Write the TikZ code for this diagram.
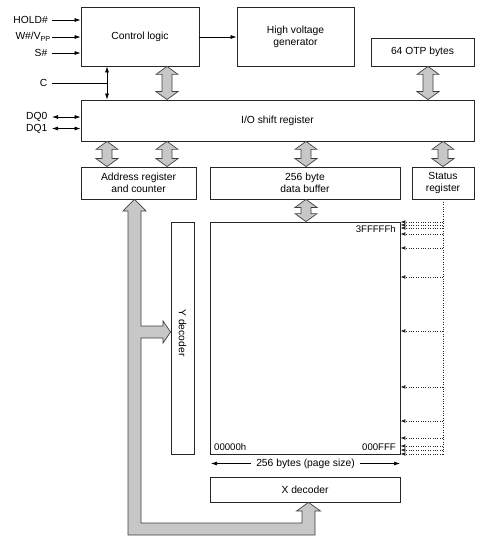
\documentclass[tikz,border=0pt]{standalone}
\usepackage{fontspec}
\setmainfont{Liberation Sans}
\usetikzlibrary{arrows.meta,calc}
\newcommand\fatv[3]{%
  \coordinate (fx) at (#1,0);
  \draw[fat] let \p1=(#2 -| fx), \p2=(#3 -| fx) in
    (\x1,\y1) -- ++(11pt,-8pt) -- ++(-6pt,0) -- (\x1+5pt,\y2+8pt) -- ++(6pt,0)
    -- (\x1,\y2) -- ++(-11pt,8pt) -- ++(6pt,0) -- (\x1-5pt,\y1-8pt) -- ++(-6pt,0) -- cycle;}
\tikzset{
  box/.style={draw=black!85, line width=0.8pt, inner sep=0pt, align=center,
    font=\fontsize{10.3}{12.3}\selectfont},
  lbl/.style={inner sep=0pt, font=\fontsize{10.3}{12}\selectfont},
  small/.style={inner sep=0pt, font=\fontsize{9.6}{11}\selectfont},
  fat/.style={fill=black!22, draw=black!75, line width=0.7pt, line join=miter},
  thin/.style={draw=black, line width=0.7pt},
  tip/.style={-{Latex[length=6pt,width=4pt]}},
  tips/.style={{Latex[length=6pt,width=4pt]}-{Latex[length=6pt,width=4pt]}},
  dots/.style={draw=black!85, line width=0.9pt, dash pattern=on 0.9pt off 1.5pt},
  dtip/.style={-{Latex[length=5pt,width=4pt]}}
}
\begin{document}
\begin{tikzpicture}[x=1pt,y=-1pt]
\useasboundingbox (0,0) rectangle (498,537);
% boxes
\node[box, minimum width=118, minimum height=59] (ctrl) at (140,36.5) {Control logic};
\node[box, minimum width=117, minimum height=59] (hv) at (295.5,36.5) {High voltage\\generator};
\node[box, minimum width=103, minimum height=28] (otp) at (422.5,52) {64 OTP bytes};
\node[box, minimum width=393, minimum height=41] (io) at (277.5,120.5) {I/O shift register};
\node[box, minimum width=115, minimum height=32] (addr) at (138.5,183) {Address register\\and counter};
\node[box, minimum width=190, minimum height=32] (buf) at (305,183) {256 byte\\data buffer};
\node[box, minimum width=62, minimum height=32] (stat) at (443,183) {Status\\register};
\node[box, minimum width=190, minimum height=232] (mem) at (305,338) {};
\node[box, minimum width=23, minimum height=232] (ydec) at (182.5,338) {};
\node[lbl, rotate=-90] (ylbl) at (182.5,333) {Y decoder};
\node[box, minimum width=190, minimum height=25] (xdec) at (305,489.5) {X decoder};
% memory labels
\node[small, anchor=east] (top) at (396,229) {3FFFFFh};
\node[small, anchor=west] (lo) at (214,447) {00000h};
\node[small, anchor=east] (hi) at (396,447) {000FFF};
% input labels
\node[lbl, anchor=east] (hold) at (48,20) {HOLD\#};
\node[lbl, anchor=east] (w) at (51,37) {W\#/V\textsubscript{PP}};
\node[lbl, anchor=east] (s) at (47.5,53) {S\#};
\node[lbl, anchor=east] (c) at (47.5,83) {C};
\node[lbl, anchor=east] (dq0) at (47.5,117) {DQ0};
\node[lbl, anchor=east] (dq1) at (47.5,128.5) {DQ1};
\coordinate (hold0) at (52,20);
\coordinate (w0) at (52,37);
\coordinate (s0) at (52,53);
\coordinate (c0) at (52,83);
\coordinate (dq00) at (52,117);
\coordinate (dq10) at (52,128.5);
\draw[thin,tip] (hold0) -- (hold0 -| ctrl.west);
\draw[thin,tip] (w0) -- (w0 -| ctrl.west);
\draw[thin,tip] (s0) -- (s0 -| ctrl.west);
\draw[thin,tips] (dq00) -- (dq00 -| io.west);
\draw[thin,tips] (dq10) -- (dq10 -| io.west);
\coordinate (cx) at (107,83);
\draw[thin] (c0) -- (cx);
\draw[thin,tips] (ctrl.south -| cx) -- (io.north -| cx);
\coordinate (hvy) at (0,37);
\draw[thin,tip] (ctrl.east |- hvy) -- (hv.west |- hvy);
% fat arrows
\fatv{167}{ctrl.south}{io.north}
\fatv{428}{otp.south}{io.north}
\fatv{107}{io.south}{addr.north}
\fatv{167}{io.south}{addr.north}
\fatv{306}{io.south}{buf.north}
\fatv{443}{io.south}{stat.north}
\fatv{306}{buf.south}{mem.north}
% big address arrow
\coordinate (ax) at (134.5,0);
\coordinate (yy) at (0,332);
\coordinate (xx) at (308.5,0);
\draw[fat] (addr.south -| ax) -- (146,211) -- (141,211) -- (141,326) -- (163,326) -- (163,321)
  -- (ydec.west |- yy) -- (163,343) -- (163,338) -- (141,338) -- (141,523) -- (302,523)
  -- (302,511) -- (296.5,511) -- (xdec.south -| xx) -- (320.5,511) -- (315,511) -- (315,535)
  -- (128,535) -- (128,211) -- (123,211) -- cycle;
% page size
\coordinate (pl) at (211,463.5);
\coordinate (pr) at (400,463.5);
\draw[thin,tips] (pl) -- (pr) node[midway, fill=white, lbl, inner xsep=5pt, inner ysep=1pt] (ps) {256 bytes (page size)};
% dotted status lines
\coordinate (dend) at (443,456);
\draw[dots] (stat.south) -- (dend);
\foreach \yy in {222,225,228,234,248,277,331,387,421,438,446,450,454}{
  \coordinate (dy) at (443,\yy);
  \draw[dots,dtip] (dy) -- (mem.east |- dy);
}
\end{tikzpicture}
\end{document}
